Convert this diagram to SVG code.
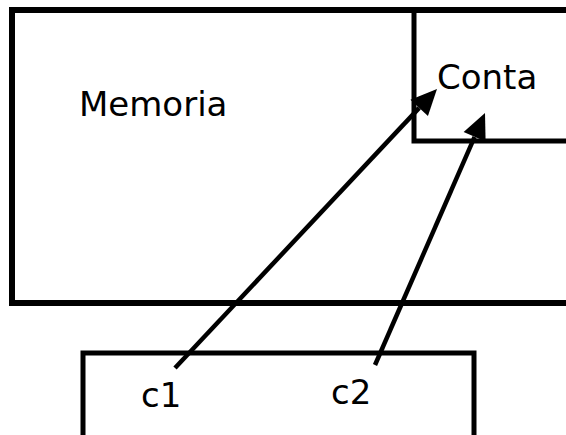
<svg xmlns="http://www.w3.org/2000/svg" width="566" height="435" viewBox="0 0 566 435">
  <style>
    .box { fill: none; stroke: #000; }
    .label { font-family: "DejaVu Sans", "Liberation Sans", sans-serif; font-size: 34px; fill: #000; }
    .link { stroke: #000; stroke-width: 4.5; fill: none; marker-end: url(#head); }
  </style>
  <defs>
    <marker id="head" markerUnits="userSpaceOnUse" markerWidth="27" markerHeight="25" refX="0" refY="12" orient="auto" overflow="visible">
      <path d="M0,0 L26,12 L0,24 z" fill="#000"/>
    </marker>
  </defs>

  <rect width="566" height="435" fill="#fff"/>

  <g id="memoria">
    <rect class="box" x="12" y="10" width="600" height="293" stroke-width="6"/>
    <text class="label" x="79" y="116">Memoria</text>
  </g>

  <g id="conta">
    <rect class="box" x="414" y="10" width="200" height="131" stroke-width="5"/>
    <text class="label" x="437" y="89">Conta</text>
  </g>

  <g id="vars">
    <rect class="box" x="83" y="353" width="391" height="200" stroke-width="5"/>
    <text class="label" x="141" y="407">c1</text>
    <text class="label" x="331" y="404">c2</text>
  </g>

  <g id="connectors">
    <line class="link" x1="175" y1="368" x2="419.2" y2="107.9"/>
    <line class="link" x1="375" y1="365" x2="474.6" y2="136.8"/>
  </g>
</svg>
